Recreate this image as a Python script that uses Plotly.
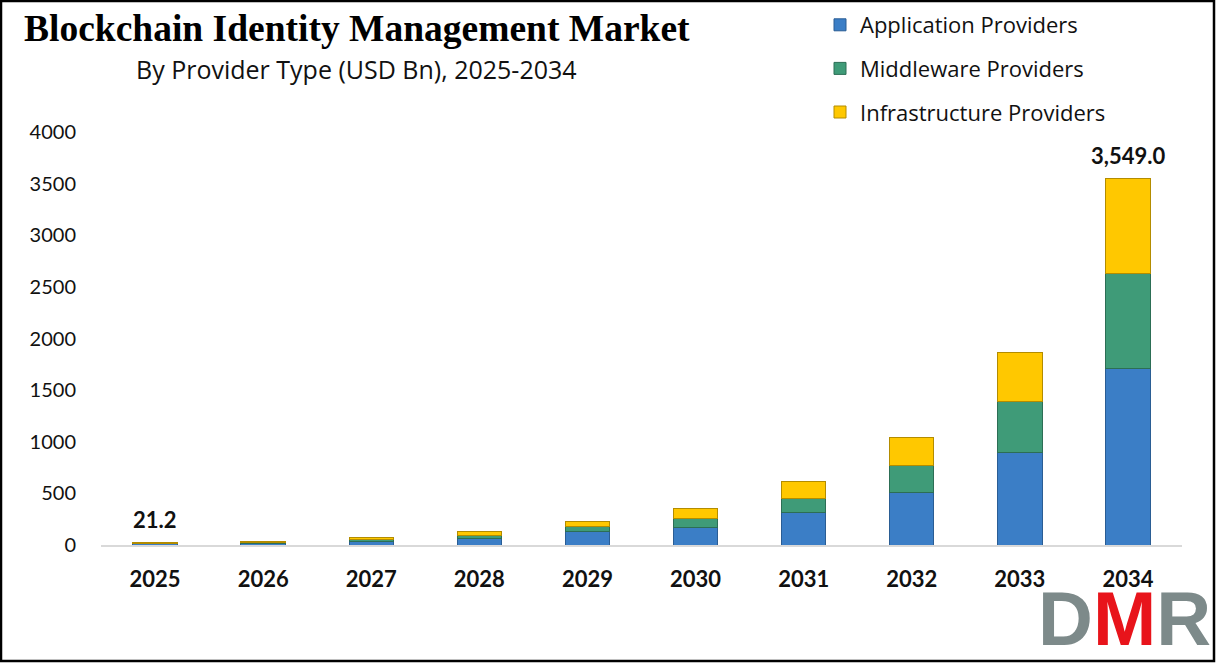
import plotly.graph_objects as go

years = ["2025", "2026", "2027", "2028", "2029", "2030", "2031", "2032", "2033", "2034"]
application = [10.2, 18, 33, 62, 129, 168, 310, 507, 898, 1707]
middleware = [5.5, 9.5, 17, 34, 48, 87, 145, 265, 490, 918]
infrastructure = [5.5, 9.5, 18, 34, 52, 94, 162, 271, 481, 924]
label_text = {"2025": "21.2", "2034": "3,549.0"}
label_value = {"2025": 21.2, "2034": 3549.0}

W, H = 1216, 663
ML, MR, MT, MB = 101, 34, 132, 118
PW, PH = W - ML - MR, H - MT - MB


def px(x):
    return (x - ML) / PW


def py(y):
    return (H - MB - y) / PH


fig = go.Figure()
series = [
    ("Application Providers", application, "#3B7EC6", "#2a5d94"),
    ("Middleware Providers", middleware, "#3F9B78", "#2c6e55"),
    ("Infrastructure Providers", infrastructure, "#FFC800", "#b38c00"),
]
for name, vals, col, edge in series:
    fig.add_trace(go.Bar(
        x=years, y=vals, name=name, legendgroup=name,
        marker=dict(color=col, line=dict(color=edge, width=1)),
        width=0.41,
    ))

for yr, txt in label_text.items():
    fig.add_annotation(x=years.index(yr), y=label_value[yr], text=txt, showarrow=False,
                       xref="x", yref="y", yanchor="bottom", yshift=8,
                       font=dict(family="Lato", size=22, color="#111111", weight="bold"))

fig.add_annotation(x=px(357), y=py(28), xref="paper", yref="paper",
                   text="<b>Blockchain Identity Management Market</b>", showarrow=False,
                   xanchor="center", yanchor="middle",
                   font=dict(family="Liberation Serif", size=37.5, color="#000000"))
fig.add_annotation(x=px(356), y=py(69), xref="paper", yref="paper",
                   text="By Provider Type (USD Bn), 2025-2034", showarrow=False,
                   xanchor="center", yanchor="middle",
                   font=dict(family="Open Sans", size=25, color="#111111"))
fig.add_annotation(x=px(1213), y=py(663), xref="paper", yref="paper",
                   text="<b><span style='color:#7d8a8a'>D</span><span style='color:#e8141b'>M</span><span style='color:#7d8a8a'>R</span></b>",
                   showarrow=False, xanchor="right", yanchor="bottom",
                   font=dict(family="Liberation Sans", size=76))

fig.add_shape(type="rect", xref="paper", yref="paper",
              x0=px(1), x1=px(1214), y0=py(661), y1=py(1),
              line=dict(color="#000000", width=2.5), fillcolor="rgba(0,0,0,0)")

fig.update_layout(
    width=W, height=H,
    margin=dict(l=ML, r=MR, t=MT, b=MB, autoexpand=False),
    barmode="stack",
    paper_bgcolor="white", plot_bgcolor="white",
    showlegend=True,
    legend=dict(x=px(820), y=py(4), xanchor="left", yanchor="top",
                traceorder="grouped", tracegroupgap=12,
                font=dict(family="Open Sans", size=22, color="#111111"),
                bgcolor="rgba(0,0,0,0)"),
)
fig.update_xaxes(type="category", range=[-0.5, 9.5], showgrid=False, showline=True,
                 linecolor="#d9d9d9", linewidth=2,
                 ticks="", tickfont=dict(family="Lato", size=22, color="#111111", weight="bold"),
                 ticklabelstandoff=14)
fig.update_yaxes(range=[0, 4000], dtick=500, showgrid=False, zeroline=False, showline=False,
                 ticks="", tickfont=dict(family="Lato", size=20, color="#111111"),
                 ticklabelstandoff=24, tickformat="d")

fig.write_html("out.html", config={"displayModeBar": False},
               post_script="document.body.style.margin='0';")
